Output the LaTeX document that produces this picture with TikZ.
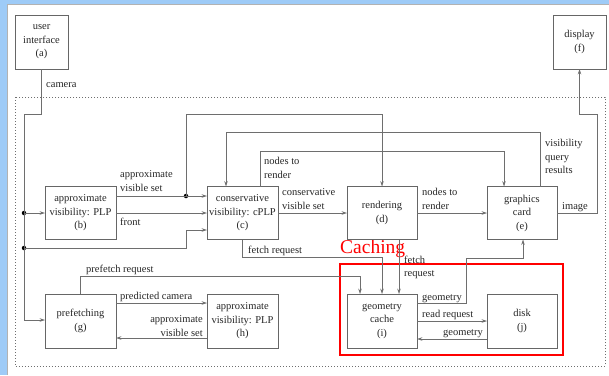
\documentclass[tikz,border=0pt]{standalone}
\usepackage{fontspec}
\setmainfont{Liberation Serif}
\usetikzlibrary{arrows.meta,calc}
\definecolor{bandblue}{HTML}{9ECBF7}
\definecolor{linegray}{HTML}{6E6E6E}
\definecolor{boxgray}{HTML}{666666}
\begin{document}
\begin{tikzpicture}[x=1pt,y=-1pt,
  font=\fontsize{10.5}{13.5}\selectfont,
  box/.style={draw=boxgray,line width=0.7pt,minimum width=71pt,minimum height=53pt,inner sep=0pt,outer sep=0pt,align=center,text=black!85},
  conn/.style={draw=linegray,line width=0.6pt},
  arr/.style={conn,-{Stealth[length=5.5pt,width=3.6pt,inset=2pt,fill=linegray!60]}},
  lbl/.style={inner sep=0pt,anchor=base west,text=black!85},
  mlbl/.style={inner sep=0pt,anchor=north west,align=left,text=black!85},
  dotj/.style={circle,fill=black,inner sep=0pt,minimum size=4.5pt}]
\useasboundingbox (0,0) rectangle (609,375);
% background frame
\fill[bandblue] (0,0) rectangle (609,375);
\fill[white] (7,4) rectangle (609,375);
\draw[gray!60,line width=0.6pt] (7,375) -- (7,4.3) -- (609,4.3);
% dotted region
\draw[linegray,line width=0.7pt,dash pattern=on 0.8pt off 2.2pt] (15,97) rectangle (605,366);
% red caching box
\draw[red,line width=2pt] (340,264) rectangle (563,355);
\node[inner sep=0pt,anchor=base west,text=red,font=\fontsize{19.5}{20}\selectfont] (cachelbl) at (340,253) {Caching};
% boxes
\node[box,minimum width=53pt,minimum height=54pt] (a) at (41.5,42) {user\\interface\\(a)};
\node[box,minimum width=53pt,minimum height=54pt] (f) at (579.5,42) {display\\(f)};
\node[box] (b) at (80.5,213) {approximate\\visibility: PLP\\(b)};
\node[box] (c) at (242.5,213) {conservative\\visibility: cPLP\\(c)};
\node[box,minimum width=70pt] (d) at (382,213) {rendering\\(d)};
\node[box,minimum width=70pt] (e) at (522,213) {graphics\\card\\(e)};
\node[box,minimum height=54pt] (g) at (80.5,321) {prefetching\\(g)};
\node[box,minimum height=54pt] (h) at (242.5,321) {approximate\\visibility: PLP\\(h)};
\node[box,minimum width=70pt,minimum height=54pt] (i) at (382,321) {geometry\\cache\\(i)};
\node[box,minimum width=70pt,minimum height=54pt] (j) at (522,321) {disk\\(j)};
% junctions
\node[dotj] (j1) at (24,213) {};
\node[dotj] (j2) at (24,248) {};
\node[dotj] (j3) at (186,196) {};
% camera
\draw[arr] (a.south) |- (24,114) -- (24,320) -- (g.west |- 0,320);
\node[lbl] (camlbl) at (46,87) {camera};
\draw[arr] (j1.center) -- (b.west);
\draw[arr] (j2.center) -- (186,248) -- (186,230) -- (c.west |- 0,230);
% b -> c
\draw[arr] (b.east |- 0,196) -- (c.west |- 0,196);
\node[mlbl] (avs1) at (120,170.5) {approximate\\visible set};
\draw[arr] (j3.center) -- (186,114) -| (d.north);
\draw[arr] (b.east) -- (c.west);
\node[lbl] (frontlbl) at (120,225) {front};
% c -> e nodes to render
\draw[arr] (c.north -| 260,0) |- (504,151) -- (e.north -| 504,0);
\node[mlbl] (ntr1) at (264,157.5) {nodes to\\render};
% visibility query results
\draw[arr] (e.north -| 540,0) |- (226,132) -- (c.north -| 226,0);
\node[mlbl] (vqr) at (545,139.5) {visibility\\query\\results};
% c -> d -> e
\draw[arr] (c.east) -- (d.west);
\node[mlbl] (cvs) at (282,188.5) {conservative\\visible set};
\draw[arr] (d.east) -- (e.west);
\node[mlbl] (ntr2) at (422,188.5) {nodes to\\render};
% image
\draw[arr] (e.east) -- (597,213) -- (597,114) -- (579.5,114) -- (f.south);
\node[lbl] (imglbl) at (562,209) {image};
% fetch request from c
\draw[arr] (c.south) |- (382,257) -- (i.north);
\node[lbl] (frlbl) at (248,253) {fetch request};
% fetch request from d
\draw[arr] (d.south -| 399,0) -- (i.north -| 399,0);
\node[mlbl] (fr2) at (404,255.5) {fetch\\request};
% prefetch request
\draw[arr] (g.north -| 80,0) |- (360,276) -- (i.north -| 360,0);
\node[lbl] (pflbl) at (86,272) {prefetch request};
% g <-> h
\draw[arr] (g.east |- 0,303) -- (h.west |- 0,303);
\node[lbl] (pclbl) at (120,299) {predicted camera};
\draw[arr] (h.west |- 0,338) -- (g.east |- 0,338);
\node[inner sep=0pt,anchor=north east,align=right,text=black!85] (avs2) at (203,315.5) {approximate\\visible set};
% geometry i -> e
\draw[arr] (i.east |- 0,303) -| (466,258) -| (e.south -| 523,0);
\node[lbl] (geo1) at (422,300) {geometry};
% i <-> j
\draw[arr] (i.east) -- (j.west);
\node[lbl] (rrlbl) at (422,317) {read request};
\draw[arr] (j.west |- 0,339) -- (i.east |- 0,339);
\node[lbl] (geo2) at (443,335) {geometry};
\end{tikzpicture}
\end{document}
